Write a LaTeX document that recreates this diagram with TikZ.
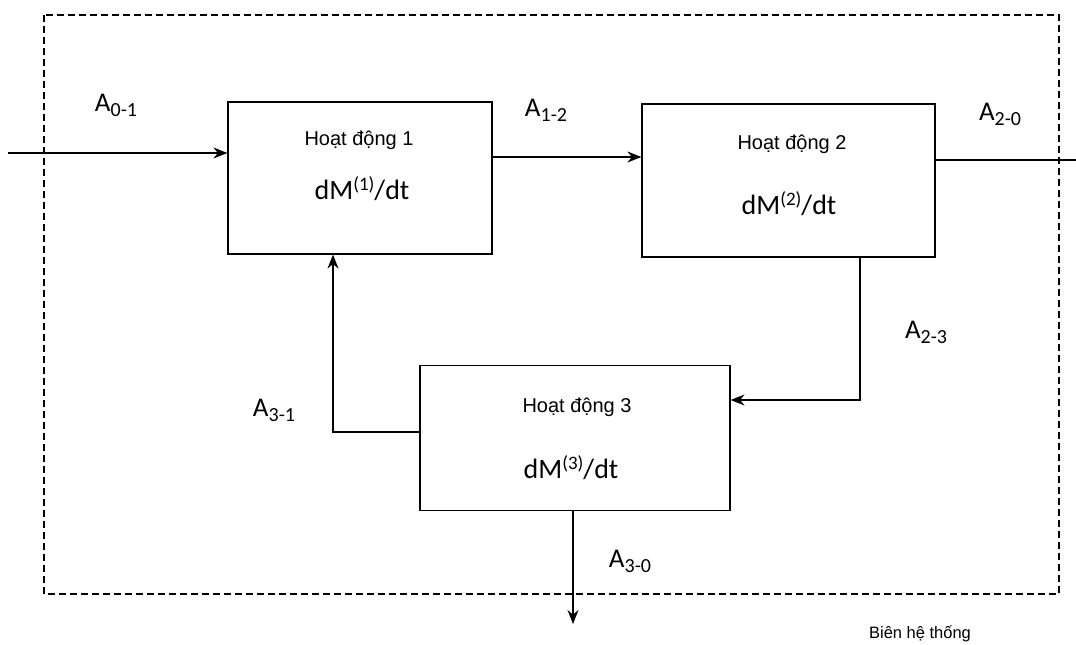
\documentclass[tikz,border=0pt]{standalone}
\usepackage{fontspec}
\setmainfont{Liberation Sans}
\newfontfamily\calib{Carlito}
\usetikzlibrary{arrows.meta}
\newcommand{\flowlab}[1]{A\raisebox{-5pt}{\fontsize{20}{22}\selectfont #1}}
\newcommand{\rate}[1]{dM\raisebox{9pt}{\fontsize{19}{20}\selectfont (#1)}/dt}
\begin{document}
\begin{tikzpicture}[x=1pt,y=-1pt,
  blk/.style={draw,line width=1.2pt,fill=white,inner sep=0pt},
  flow/.style={line width=1.4pt,-{Stealth[length=14pt,width=11pt]}},
  plain/.style={line width=1.4pt},
  lbl/.style={font=\calib\fontsize{27}{30}\selectfont,inner sep=0pt},
  ttl/.style={font=\fontsize{20}{22}\selectfont,inner sep=0pt},
  eqn/.style={font=\calib\fontsize{28}{30}\selectfont,inner sep=0pt}]
\useasboundingbox (0,0) rectangle (1076,645);
\fill[white] (0,0) rectangle (1076,645);
% system boundary
\draw[line width=1.4pt,dash pattern=on 7pt off 4pt] (44,15) rectangle (1059,594);
% boxes
\node[blk,minimum width=264pt,minimum height=152pt] (b1) at (360,178) {};
\node[blk,minimum width=293pt,minimum height=153pt] (b2) at (788.5,180.5) {};
\node[blk,minimum width=310pt,minimum height=145pt] (b3) at (575,438) {};
\node[ttl] (t1) at (359,140) {Hoạt động 1};
\node[ttl] (t2) at (792,144) {Hoạt động 2};
\node[ttl] (t3) at (577,407) {Hoạt động 3};
\node[eqn] (e1) at (362,189) {\rate{1}};
\node[eqn] (e2) at (789,204) {\rate{2}};
\node[eqn] (e3) at (571,468) {\rate{3}};
% coordinates
\coordinate (in01) at (8,153);
\coordinate (out20) at (1076,160);
\coordinate (c23) at (860,400);
\coordinate (c31) at (333,432);
\coordinate (out30) at (573,624);
% connectors
\draw[flow] (in01) -- (b1.west |- in01);
\draw[flow] (b1.east |- 0,157) -- (b2.west |- 0,157);
\draw[plain] (b2.east |- out20) -- (out20);
\draw[flow] (b2.south -| c23) -- (c23) -- (b3.east |- c23);
\draw[flow] (b3.west |- c31) -- (c31) -- (c31 |- b1.south);
\draw[flow] (b3.south -| out30) -- (out30);
% labels
\node[lbl] (l01) at (116,105) {\flowlab{0-1}};
\node[lbl] (l12) at (546,110) {\flowlab{1-2}};
\node[lbl] (l20) at (1000,114) {\flowlab{2-0}};
\node[lbl] (l23) at (926,332) {\flowlab{2-3}};
\node[lbl] (l31) at (274,410) {\flowlab{3-1}};
\node[lbl] (l30) at (630,561) {\flowlab{3-0}};
\node[font=\fontsize{16.5}{18}\selectfont,inner sep=0pt] (bien) at (920,634) {Biên hệ thống};
\end{tikzpicture}
\end{document}
